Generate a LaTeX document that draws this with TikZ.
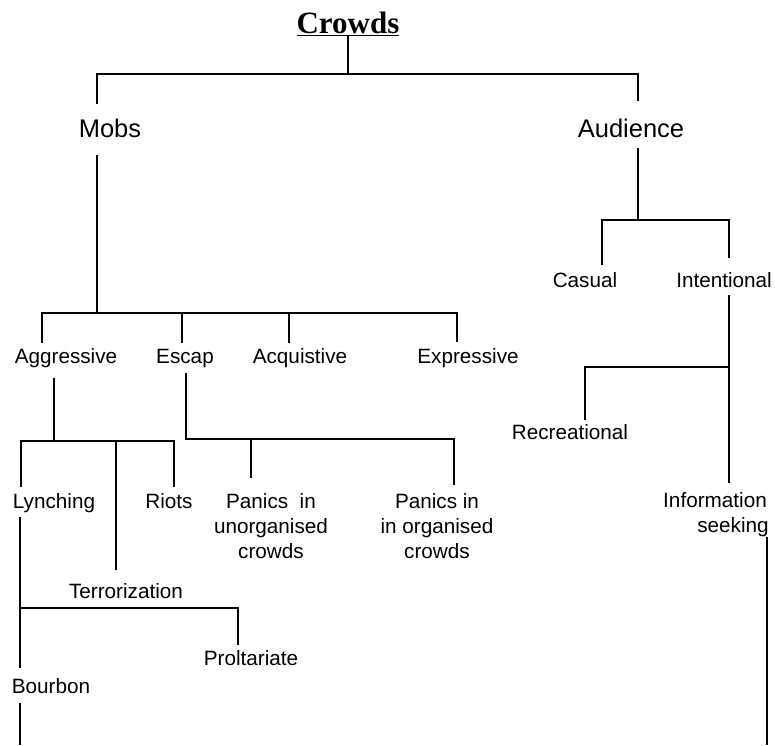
\documentclass[tikz,border=0pt]{standalone}
\usepackage{fontspec}
\setmainfont{Liberation Sans}
\newfontfamily\titlefont{Liberation Serif}
\begin{document}
\begin{tikzpicture}[x=1pt,y=-1pt,
  lbl/.style={anchor=base,inner sep=0pt,align=center,font=\fontsize{20.7}{25}\selectfont},
  big/.style={anchor=base,inner sep=0pt,font=\fontsize{25.5}{30}\selectfont},
  conn/.style={line width=1.9pt}]
\useasboundingbox (0,0) rectangle (775,745);
% nodes (multi-line nodes are placed by the baseline of their last line)
\node[anchor=base,inner sep=0pt,font=\titlefont\bfseries\fontsize{31}{36}\selectfont] (crowds) at (348,33) {\underline{Crowds}};
\node[big] (mobs) at (110,137) {Mobs};
\node[big] (aud) at (631,137) {Audience};
\node[lbl] (cas) at (585,287) {Casual};
\node[lbl] (int) at (724,287) {Intentional};
\node[lbl] (agg) at (66,363) {Aggressive};
\node[lbl] (esc) at (185,363) {Escap};
\node[lbl] (acq) at (300,363) {Acquistive};
\node[lbl] (exp) at (468,363) {Expressive};
\node[lbl] (rec) at (570,439) {Recreational};
\node[lbl] (lyn) at (54,508) {Lynching};
\node[lbl] (riot) at (169,508) {Riots};
\node[lbl] (pu) at (271,558) {Panics\ \ in\\unorganised\\crowds};
\node[lbl] (po) at (437,558) {Panics in\\in organised\\crowds};
\node[lbl] (inf) at (715,532) {Information\\\hspace*{36pt}seeking};
\node[lbl] (ter) at (126,598) {Terrorization};
\node[lbl] (pro) at (251,665) {Proltariate};
\node[lbl] (bou) at (51,693) {Bourbon};
% junction and end coordinates
\coordinate (c0) at (348,74);
\coordinate (mobsT) at (97,104);
\coordinate (audT) at (638,101);
\coordinate (mobsB) at (97,155);
\coordinate (m0) at (97,313);
\coordinate (aggT) at (42,343);
\coordinate (escT) at (182,343);
\coordinate (acqT) at (289,343);
\coordinate (expT) at (457,342);
\coordinate (audB) at (638,148);
\coordinate (a0) at (638,220);
\coordinate (casT) at (602,265);
\coordinate (intT) at (729,258);
\coordinate (intB) at (729,295);
\coordinate (recJ) at (729,367);
\coordinate (recT) at (585,420);
\coordinate (infT) at (729,483);
\coordinate (infB) at (767,537);
\coordinate (infEnd) at (767,745);
\coordinate (aggB) at (54,378);
\coordinate (g0) at (54,441);
\coordinate (lynT) at (21,487);
\coordinate (terT) at (116,570);
\coordinate (riotT) at (174,487);
\coordinate (escB) at (186,373);
\coordinate (e0) at (186,439);
\coordinate (puT) at (251,478);
\coordinate (poT) at (454,485);
\coordinate (lynB) at (20,517);
\coordinate (l0) at (20,608);
\coordinate (bouT) at (20,668);
\coordinate (proT) at (238,645);
\coordinate (bouB) at (20,703);
\coordinate (bouEnd) at (20,745);
% connectors
\draw[conn] (crowds.south) -- (c0);
\draw[conn] (mobsT) |- (c0) -| (audT);
\draw[conn] (mobsB) -- (m0);
\draw[conn] (aggT) |- (m0) -| (expT);
\draw[conn] (escT) -- (escT |- m0);
\draw[conn] (acqT) -- (acqT |- m0);
\draw[conn] (audB) -- (a0);
\draw[conn] (casT) |- (a0) -| (intT);
\draw[conn] (intB) -- (infT);
\draw[conn] (recT) |- (recJ);
\draw[conn] (infB) -- (infEnd);
\draw[conn] (aggB) -- (g0);
\draw[conn] (lynT) |- (g0) -| (riotT);
\draw[conn] (terT) -- (terT |- g0);
\draw[conn] (escB) -- (e0) -| (poT);
\draw[conn] (puT) -- (puT |- e0);
\draw[conn] (lynB) -- (bouT);
\draw[conn] (l0) -| (proT);
\draw[conn] (bouB) -- (bouEnd);
\end{tikzpicture}
\end{document}
